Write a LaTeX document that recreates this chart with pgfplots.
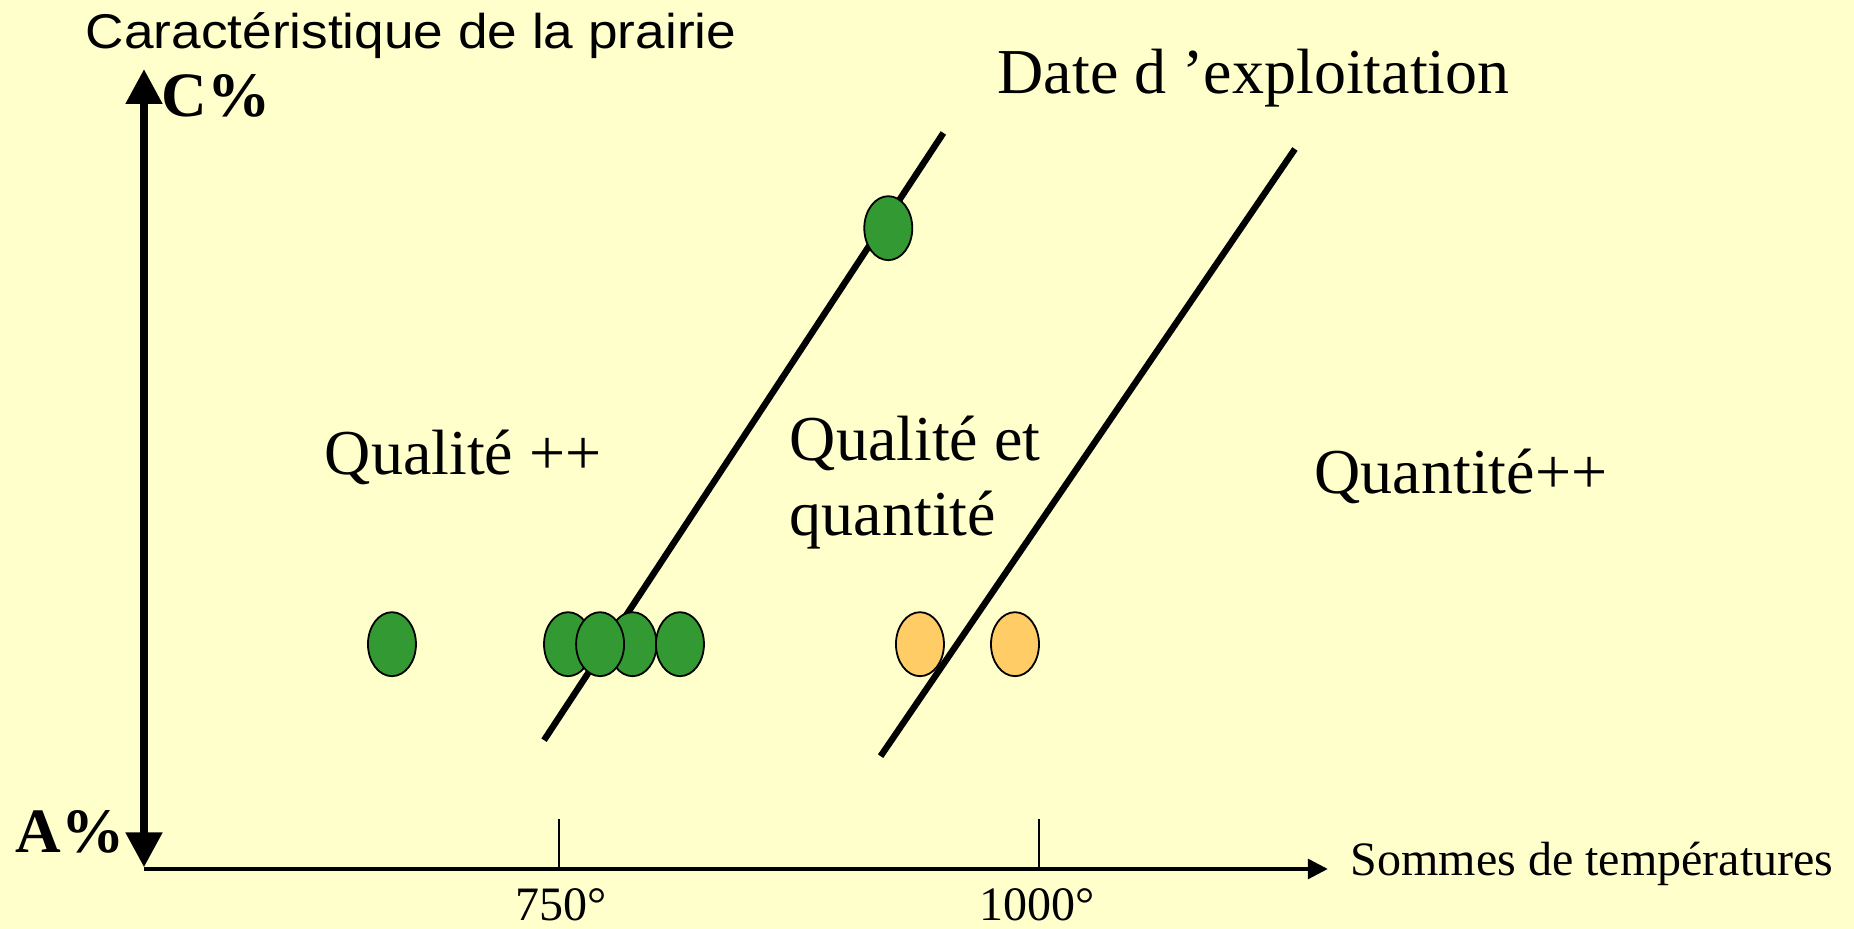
\documentclass[border=0pt]{standalone}
\usepackage{fontspec}
\setmainfont{Liberation Serif}
\newfontfamily\sansf{Liberation Sans}
\usepackage{pgfplots}
\pgfplotsset{compat=1.18}
\usetikzlibrary{arrows.meta}
\definecolor{bg}{HTML}{FFFFCC}
\definecolor{vert}{HTML}{339933}
\definecolor{orange}{HTML}{FFCC66}
\pgfplotstableread{
x y
663.0 28.1
754.7 28.1
788.3 28.1
813.0 28.1
}\vertbas
\pgfplotstableread{
x y
771.4 28.1
921.5 80.1
}\verthaut
\pgfplotstableread{
x y
938.0 28.1
987.5 28.1
}\orangepts
\begin{document}
\begin{tikzpicture}
\begin{axis}[
  scale only axis, width=463.5pt, height=232.25pt,
  xmin=458.85, xmax=1424.48, ymin=-7.5, ymax=108.625,
  hide axis, clip=false,
]
\fill[bg] (rel axis cs:0,0) rectangle (rel axis cs:1,1);
% axes
\draw[line width=0.8pt, -{Triangle[length=5pt,width=5pt]}] (axis cs:533.85,0) -- (axis cs:1150.4,0);
\draw[line width=2pt, {Triangle[length=8.75pt,width=8.75pt]}-{Triangle[length=8.75pt,width=8.75pt]}] (axis cs:533.85,0.2) -- (axis cs:533.85,100);
\draw[line width=0.3pt] (axis cs:750,0) -- (axis cs:750,6.25);
\draw[line width=0.3pt] (axis cs:1000,0) -- (axis cs:1000,6.25);
% first boundary line
\addplot[black, line width=1.6pt] coordinates {(742.2,16.1) (950.2,92.0)};
\addplot[only marks, mark=*, mark size=6pt, mark options={yscale=1.333, draw=black, line width=0.45pt, fill=vert}] table {\vertbas};
\addplot[only marks, mark=*, mark size=6pt, mark options={yscale=1.333, draw=black, line width=0.45pt, fill=vert}] table {\verthaut};
\addplot[only marks, mark=*, mark size=6pt, mark options={yscale=1.333, draw=black, line width=0.45pt, fill=orange}] table {\orangepts};
% second boundary line
\addplot[black, line width=1.6pt] coordinates {(917.5,14.1) (1133.3,90.0)};
% texts
\node[anchor=base west, inner sep=0, font=\sansf\fontsize{12.2pt}{14pt}\selectfont, xscale=1.09] at (axis cs:503.1,102.6) {Caractéristique de la prairie};
\node[anchor=base west, inner sep=0, font=\bfseries\fontsize{15.8pt}{18pt}\selectfont] at (axis cs:542.7,94) {C\%};
\node[anchor=base west, inner sep=0, font=\bfseries\fontsize{15.8pt}{18pt}\selectfont] at (axis cs:466.5,2) {A\%};
\node[anchor=base west, inner sep=0, font=\fontsize{16pt}{19pt}\selectfont] at (axis cs:978.1,96.9) {Date d ’exploitation};
\node[anchor=base west, inner sep=0, font=\fontsize{16pt}{19pt}\selectfont] at (axis cs:627.6,49.25) {Qualité ++};
\node[anchor=base west, inner sep=0, font=\fontsize{16pt}{19pt}\selectfont] at (axis cs:869.8,51) {Qualité et};
\node[anchor=base west, inner sep=0, font=\fontsize{16pt}{19pt}\selectfont] at (axis cs:869.8,41.7) {quantité};
\node[anchor=base west, inner sep=0, font=\fontsize{16pt}{19pt}\selectfont] at (axis cs:1143.2,46.9) {Quantité++};
\node[anchor=base west, inner sep=0, font=\fontsize{12pt}{14pt}\selectfont] at (axis cs:1162.0,-0.875) {Sommes de températures};
\node[anchor=base, inner sep=0, font=\fontsize{12pt}{14pt}\selectfont] at (axis cs:751,-6.5) {750°};
\node[anchor=base, inner sep=0, font=\fontsize{12pt}{14pt}\selectfont] at (axis cs:999,-6.5) {1000°};
\end{axis}
\end{tikzpicture}
\end{document}
